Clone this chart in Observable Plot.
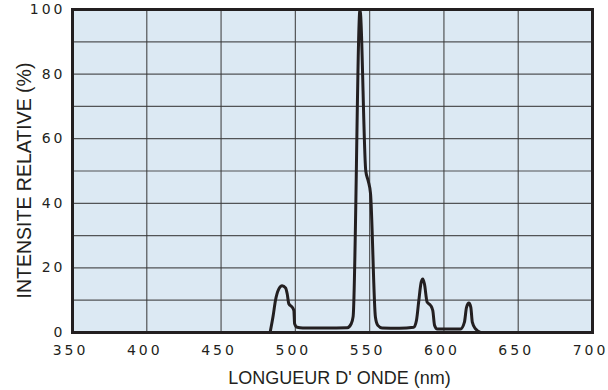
<!DOCTYPE html>
<html>
<head>
<meta charset="utf-8">
<script src="https://cdn.jsdelivr.net/npm/d3@7"></script>
<script src="https://cdn.jsdelivr.net/npm/@observablehq/plot@0.6"></script>
<style>
  html, body { margin: 0; padding: 0; background: #ffffff; }
  #chart svg { display: block; }
  #chart g[aria-label="x-axis tick label"] text,
  #chart g[aria-label="y-axis tick label"] text { letter-spacing: 3px; font-family: 'DejaVu Sans', sans-serif; }
</style>
</head>
<body>
<div id="chart"></div>
<script>
// Wavelength (nm) and relative intensity (%)
const wavelength = [483, 485, 486.6, 488.9, 491.1, 493.4, 494.5, 495.6, 497.9, 499, 499.5, 501.2, 505, 520, 535, 537.6, 538.9, 543.5, 547.4, 549, 550.6, 553.9, 555.5, 558.4, 570, 579.7, 581.5, 583.1, 584.7, 585.8, 586.9, 588.7, 591, 592.5, 593.7, 595.5, 605, 611.2, 613.8, 615.2, 616.8, 618.1, 619.1, 621.3, 624.6];
const intensity  = [0, 5, 9.9, 13.5, 14.5, 13.8, 12, 8.9, 7.8, 6.8, 2.7, 1.6, 1.4, 1.4, 1.5, 2.7, 5, 100, 50, 47, 43, 4.7, 2.2, 1.4, 1.3, 1.6, 3.7, 9.9, 15.6, 16.6, 15, 9.4, 8.4, 6.8, 2.2, 1.1, 1.1, 1.1, 3.2, 7.8, 9.1, 7.8, 3.2, 1.1, 0];
const xTicks = [350, 400, 450, 500, 550, 600, 650, 700];
const yTicks = [0, 20, 40, 60, 80, 100];
const yGrid = [10, 20, 30, 40, 50, 60, 70, 80, 90];
const xLabel = "LONGUEUR D' ONDE (nm)";
const yLabel = "INTENSITE RELATIVE (%)";

const data = wavelength.map((w, i) => ({w, v: intensity[i]}));

const chart = Plot.plot({
  width: 608,
  height: 390,
  marginLeft: 72,
  marginRight: 16,
  marginTop: 9,
  marginBottom: 58,
  style: {fontFamily: "'Liberation Sans', Arial, sans-serif", fontSize: "14px", color: "#231f20", background: "#ffffff"},
  x: {domain: [350, 700]},
  y: {domain: [0, 100]},
  marks: [
    Plot.frame({fill: "#dce9f3", stroke: null}),
    Plot.gridX(xTicks.slice(1, -1), {stroke: "#3a3a3a", strokeOpacity: 0.85, strokeWidth: 1.2}),
    Plot.gridY(yGrid, {stroke: "#3a3a3a", strokeOpacity: 0.85, strokeWidth: 1.2}),
    Plot.axisX(xTicks, {tickSize: 0, tickPadding: 13, fontSize: 14, dx: -2, label: null}),
    Plot.axisY(yTicks, {tickSize: 0, tickPadding: 7, fontSize: 14, label: null}),
    Plot.line(data, {x: "w", y: "v", stroke: "#231f20", strokeWidth: 3, curve: "monotone-x", strokeLinejoin: "round"}),
    Plot.frame({stroke: "#231f20", strokeWidth: 3}),
    Plot.text([xLabel], {frameAnchor: "bottom", textAnchor: "middle", lineAnchor: "middle", dx: 7, dy: 46, fontSize: 18, fill: "#231f20"}),
    Plot.text([yLabel], {frameAnchor: "left", textAnchor: "middle", lineAnchor: "middle", dx: -48, dy: 9.5, rotate: -90, fontSize: 19.5, fill: "#231f20"})
  ]
});
document.getElementById("chart").appendChild(chart);
</script>
</body>
</html>
